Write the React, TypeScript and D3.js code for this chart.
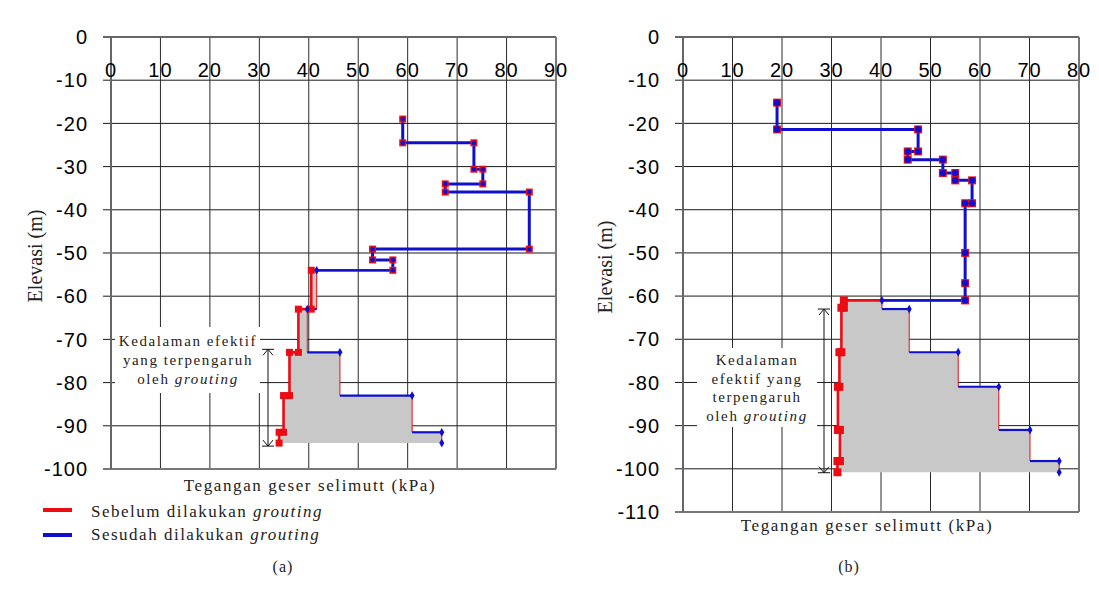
import * as d3 from 'd3';

type Pt = [number, number]; // [shear stress kPa, elevation m]

// ── Panel (a) ────────────────────────────────────────────────────────────────
const ticksXA = [0, 10, 20, 30, 40, 50, 60, 70, 80, 90];
const ticksYA = [0, -10, -20, -30, -40, -50, -60, -70, -80, -90, -100];
// profile shared by both series (no change above the grouted zone)
const upperA: Pt[] = [
  [59, -19], [59, -24.5], [73.4, -24.5], [73.4, -30.6], [75.2, -30.6], [75.2, -34],
  [67.6, -34], [67.6, -35.9], [84.6, -35.9], [84.6, -49.1], [52.9, -49.1], [52.9, -51.6],
  [57, -51.6], [57, -54],
];
const beforeA: Pt[] = [
  [57, -54], [40.5, -54], [40.5, -63], [37.9, -63], [37.9, -73], [36.1, -73], [36.1, -83],
  [34.9, -83], [34.9, -91.5], [34, -91.5], [34, -94],
];
const afterA: Pt[] = [
  [57, -54], [41.6, -54], [41.6, -63], [39.7, -63], [39.7, -73], [46.3, -73], [46.3, -83],
  [60.9, -83], [60.9, -91.5], [66.9, -91.5], [66.9, -94],
];
const depthA: [number, number] = [-72.3, -94.7];
const noteA = [['Kedalaman efektif'], ['yang terpengaruh'], ['oleh ', 'grouting']];

// ── Panel (b) ────────────────────────────────────────────────────────────────
const ticksXB = [0, 10, 20, 30, 40, 50, 60, 70, 80];
const ticksYB = [0, -10, -20, -30, -40, -50, -60, -70, -80, -90, -100, -110];
const upperB: Pt[] = [
  [19, -15.2], [19, -21.4], [47.5, -21.4], [47.5, -26.5], [45.4, -26.5], [45.4, -28.4],
  [52.5, -28.4], [52.5, -31.5], [55, -31.5], [55, -33.2], [58.4, -33.2], [58.4, -38.5],
  [57, -38.5], [57, -50], [57, -57], [57, -61],
];
const beforeB: Pt[] = [
  [57, -61], [32.5, -61], [32.5, -62.7], [32, -62.7], [32, -73], [31.6, -73], [31.6, -81],
  [31.3, -81], [31.3, -91], [31.7, -91], [31.7, -98.2], [31.2, -98.2], [31.2, -100.8],
];
const afterB: Pt[] = [
  [57, -61], [40.2, -61], [40.2, -63], [45.7, -63], [45.7, -73], [55.6, -73], [55.6, -81],
  [63.8, -81], [63.8, -91], [70.1, -91], [70.1, -98.2], [76, -98.2], [76, -100.8],
];
const depthB: [number, number] = [-63, -100.9];
const noteB = [['Kedalaman'], ['efektif yang'], ['terpengaruh'], ['oleh ', 'grouting']];

const xTitle = 'Tegangan geser selimutt (kPa)';
const yTitle = 'Elevasi (m)';
const legendItems = ['Sebelum dilakukan ', 'Sesudah dilakukan '];

const RED = '#ec0c14';
const BLUE = '#1010cc';
const SANS = '"Liberation Sans", Arial, sans-serif';
const SERIF = '"Liberation Serif", "Times New Roman", serif';

interface PanelProps {
  left: number; right: number; top: number; bottom: number;
  xMax: number; yMin: number;
  ticksX: number[]; ticksY: number[];
  upper: Pt[]; before: Pt[]; after: Pt[];
  depth: [number, number]; arrowX: number;
  note: string[][]; noteX: number; noteY: number; noteLH: number;
  box: [number, number, number, number];
  dotR: number; sq: number;
  titleX: number; titleY: number;
  yTitleX: number; yTitleY: number;
  caption: string; captionX: number; captionY: number;
}

function Panel(p: PanelProps) {
  const x = d3.scaleLinear().domain([0, p.xMax]).range([p.left, p.right]);
  const y = d3.scaleLinear().domain([p.yMin, 0]).range([p.bottom, p.top]);
  const line = d3.line<Pt>().x(d => x(d[0])).y(d => y(d[1]));
  const shade = [...p.after, ...p.before.slice().reverse()];
  const diamond = d3.symbol().type(d3.symbolDiamond).size(22)();

  // arrow for the effective depth span
  const ay0 = y(p.depth[0]);
  const ay1 = y(p.depth[1]);
  const ax = p.arrowX;
  const h = p.sq / 2;

  return (
    <g>
      {/* grid */}
      {p.ticksY.map(t => (
        <line key={'gy' + t} x1={p.left - 8} x2={p.right} y1={y(t)} y2={y(t)}
          stroke="#1a1a1a" strokeWidth={1} />
      ))}
      {p.ticksX.map(t => (
        <line key={'gx' + t} x1={x(t)} x2={x(t)} y1={p.top} y2={p.bottom}
          stroke="#2a2a2a" strokeWidth={1} />
      ))}
      {/* frame */}
      <line x1={p.left - 8} x2={p.right} y1={p.top} y2={p.top} stroke="#666" strokeWidth={2} />
      <line x1={p.left - 8} x2={p.right} y1={p.bottom} y2={p.bottom} stroke="#777" strokeWidth={2} />
      <line x1={p.left} x2={p.left} y1={p.top} y2={p.bottom} stroke="#666" strokeWidth={2} />
      <line x1={p.right} x2={p.right} y1={p.top} y2={p.bottom} stroke="#777" strokeWidth={2} />

      {/* tick labels */}
      {p.ticksX.map(t => (
        <text key={'tx' + t} x={x(t)} y={p.top + 40} textAnchor="middle"
          fontFamily={SANS} fontSize={20} letterSpacing={1}>{t}</text>
      ))}
      {p.ticksY.map(t => (
        <text key={'ty' + t} x={p.left - 23} y={y(t)} dy="0.36em" textAnchor="end"
          fontFamily={SANS} fontSize={20} letterSpacing={1}>{t}</text>
      ))}

      {/* grouted zone: shaded difference between before and after */}
      <path d={line(shade) ?? ''} fill="#c8c8c8" stroke="none" />
      <path d={line(p.before) ?? ''} fill="none" stroke={RED} strokeWidth={2.6} />
      {p.after.slice(1).map((b, i) => {
        const a = p.after[i];
        const flat = a[1] === b[1];
        return (
          <line key={'as' + i} x1={x(a[0])} y1={y(a[1])} x2={x(b[0])} y2={y(b[1])}
            stroke={flat ? BLUE : RED} strokeWidth={flat ? 2.2 : 1} />
        );
      })}

      {/* shared upper profile */}
      <path d={line(p.upper) ?? ''} fill="none" stroke={BLUE} strokeWidth={3} />

      {/* markers */}
      {[...p.upper, ...p.before.slice(1)].map((d, i) => (
        <rect key={'rs' + i} x={x(d[0]) - h} y={y(d[1]) - h} width={p.sq} height={p.sq} fill={RED} />
      ))}
      {p.upper.map((d, i) => (
        <circle key={'bc' + i} cx={x(d[0])} cy={y(d[1])} r={p.dotR} fill={BLUE} />
      ))}
      {p.after.map((d, i) => {
        if (i === 0) return null;
        const flat = p.after[i - 1][1] === d[1];
        if (!flat && i !== p.after.length - 1) return null;
        return (
          <path key={'bd' + i} d={diamond ?? ''} fill={BLUE}
            transform={`translate(${x(d[0])},${y(d[1])})`} />
        );
      })}

      {/* effective depth note */}
      <rect x={p.box[0]} y={p.box[1]} width={p.box[2]} height={p.box[3]} fill="#fff" />
      {p.note.map((ln, i) => (
        <text key={'n' + i} x={p.noteX} y={p.noteY + i * p.noteLH} textAnchor="middle"
          fontFamily={SERIF} fontSize={15} letterSpacing={1.6} fill="#222">
          {ln[0]}
          {ln[1] && <tspan fontStyle="italic">{ln[1]}</tspan>}
        </text>
      ))}
      <g stroke="#111" strokeWidth={1} fill="none">
        <line x1={ax} x2={ax} y1={ay0} y2={ay1} />
        <line x1={ax - 6} x2={ax + 6} y1={ay0} y2={ay0} />
        <line x1={ax - 6} x2={ax + 6} y1={ay1} y2={ay1} />
        <polyline points={`${ax - 5},${ay0 + 6} ${ax},${ay0} ${ax + 5},${ay0 + 6}`} />
        <polyline points={`${ax - 5},${ay1 - 6} ${ax},${ay1} ${ax + 5},${ay1 - 6}`} />
      </g>

      {/* titles */}
      <text x={p.titleX} y={p.titleY} textAnchor="middle" fontFamily={SERIF} fontSize={17}
        letterSpacing={1.6} fill="#222">{xTitle}</text>
      <text transform={`translate(${p.yTitleX},${p.yTitleY}) rotate(-90)`} textAnchor="middle"
        fontFamily={SERIF} fontSize={20} fill="#222">{yTitle}</text>
      <text x={p.captionX} y={p.captionY} textAnchor="middle" fontFamily={SERIF} fontSize={16}
        letterSpacing={1} fill="#222">{p.caption}</text>
    </g>
  );
}

export default function App() {
  return (
    <div style={{ position: 'absolute', left: 0, top: 0 }}>
      <svg width={1099} height={597} style={{ display: 'block', background: '#fff' }}>
        <Panel left={111} right={556} top={37} bottom={469} xMax={90} yMin={-100}
          ticksX={ticksXA} ticksY={ticksYA}
          upper={upperA} before={beforeA} after={afterA}
          depth={depthA} arrowX={268}
          note={noteA} noteX={188} noteY={346} noteLH={19} box={[115, 327, 145, 66]}
          dotR={2.3} sq={7}
          titleX={310} titleY={491} yTitleX={42} yTitleY={256}
          caption="(a)" captionX={283} captionY={572} />
        <Panel left={683} right={1079} top={37} bottom={512} xMax={80} yMin={-110}
          ticksX={ticksXB} ticksY={ticksYB}
          upper={upperB} before={beforeB} after={afterB}
          depth={depthB} arrowX={824}
          note={noteB} noteX={757} noteY={365} noteLH={18.6} box={[697, 348, 120, 79]}
          dotR={3.3} sq={8}
          titleX={867} titleY={531} yTitleX={612} yTitleY={267}
          caption="(b)" captionX={849} captionY={572} />

        {/* legend */}
        {legendItems.map((s, i) => (
          <g key={s}>
            <line x1={43} x2={72} y1={510 + i * 25} y2={510 + i * 25}
              stroke={i === 0 ? RED : BLUE} strokeWidth={4} />
            <text x={91} y={517 + i * 23} fontFamily={SERIF} fontSize={17} letterSpacing={1.5}
              fill="#222">
              {s}<tspan fontStyle="italic">grouting</tspan>
            </text>
          </g>
        ))}
      </svg>
    </div>
  );
}
